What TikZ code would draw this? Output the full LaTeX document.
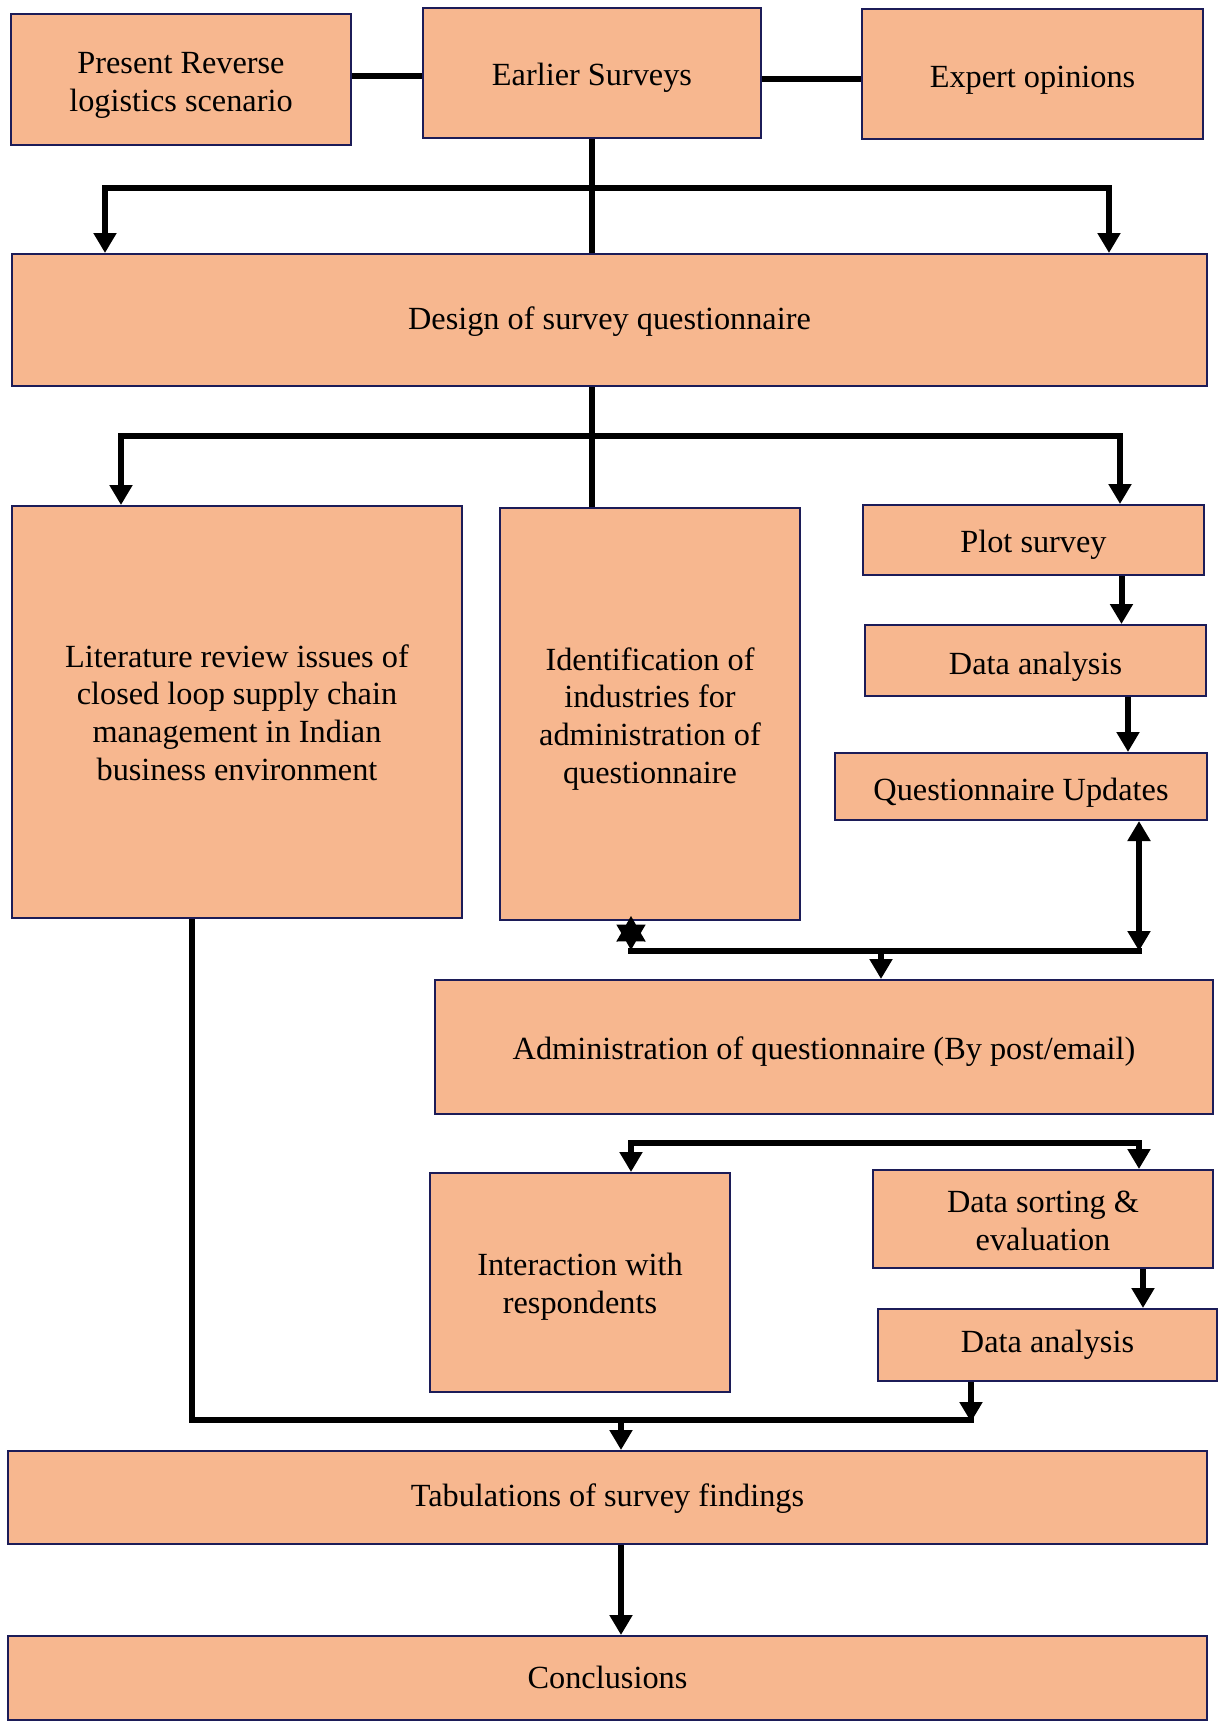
\documentclass[tikz,border=0pt]{standalone}
\usepackage{fontspec}
\setmainfont{Liberation Serif}
\usetikzlibrary{arrows.meta,shapes.geometric}
\definecolor{peach}{RGB}{247,183,143}
\definecolor{edge}{RGB}{28,28,88}
% centred block of lines, lowered a little inside its box
\newcommand\lbl[2][4pt]{\raisebox{-#1}[\height][\depth]{\begin{tabular}{@{}c@{}}#2\end{tabular}}}
\begin{document}
\begin{tikzpicture}[x=1pt,y=-1pt,
  box/.style={draw=edge,line width=2pt,fill=peach,inner sep=0pt,
              font=\fontsize{32.3}{37.7}\selectfont},
  link/.style={line width=6pt,line join=miter},
  arr/.style={line width=6pt,line join=miter,-{Triangle[width=22pt,length=20pt]}},
  dbl/.style={line width=6pt,{Triangle[width=22pt,length=20pt]}-{Triangle[width=22pt,length=20pt]}},
]
\useasboundingbox (0,0) rectangle (1218,1722);

% boxes
\node[box,minimum width=340pt,minimum height=131pt] (pr) at (181,79.5) {\lbl[5.5pt]{Present Reverse\\logistics scenario}};
\node[box,minimum width=338pt,minimum height=130pt] (es) at (592,73) {\lbl[4.5pt]{Earlier Surveys}};
\node[box,minimum width=341pt,minimum height=130pt] (eo) at (1032.5,74) {\lbl[5.5pt]{Expert opinions}};
\node[box,minimum width=1195pt,minimum height=132pt] (design) at (609.5,320) {\lbl[2pt]{Design of survey questionnaire}};
\node[box,minimum width=450pt,minimum height=412pt] (lit) at (237,712) {\lbl[4pt]{Literature review issues of\\closed loop supply chain\\management in Indian\\business environment}};
\node[box,minimum width=300pt,minimum height=412pt] (ident) at (650,714) {\lbl[5pt]{Identification of\\industries for\\administration of\\questionnaire}};
\node[box,minimum width=341pt,minimum height=70pt] (plot) at (1033.5,540) {\lbl[4.5pt]{Plot survey}};
\node[box,minimum width=341pt,minimum height=71pt] (da1) at (1035.5,660.5) {\lbl[6.5pt]{Data analysis}};
\node[box,minimum width=372pt,minimum height=67pt] (qu) at (1021,786.5) {\lbl[6.5pt]{Questionnaire Updates}};
\node[box,minimum width=778pt,minimum height=134pt] (admin) at (824,1047) {\lbl[4.5pt]{Administration of questionnaire (By post/email)}};
\node[box,minimum width=300pt,minimum height=219pt] (inter) at (580,1282.5) {\lbl[4.5pt]{Interaction with\\respondents}};
\node[box,minimum width=340pt,minimum height=98pt] (ds) at (1043,1219) {\lbl[5pt]{Data sorting \&\\evaluation}};
\node[box,minimum width=339pt,minimum height=72pt] (da2) at (1047.5,1345) {\lbl[0pt]{Data analysis}};
\node[box,minimum width=1199pt,minimum height=93pt] (tab) at (607.5,1497.5) {\lbl[1pt]{Tabulations of survey findings}};
\node[box,minimum width=1199pt,minimum height=84pt] (concl) at (607.5,1678) {\lbl[3pt]{Conclusions}};

% junction points
\coordinate (t1) at (591,188);
\coordinate (t2) at (591,436);
\coordinate (hb) at (1139,951);
\coordinate (sp) at (885,1143);
\coordinate (bj) at (971,1420);

% top row links
\draw[link] ([yshift=3.5pt]pr.east) -- ([yshift=3.5pt]pr.east -| es.west);
\draw[link] ([yshift=-5pt]eo.west -| es.east) -- ([yshift=-5pt]eo.west);

% earlier surveys to design
\draw[link] (es.south) -- (es.south |- design.north);
\draw[arr] (es.south |- t1) -| ([xshift=-504.5pt]design.north);
\draw[arr] (es.south |- t1) -| ([xshift=499.5pt]design.north);

% design to second row
\draw[link] (es.south |- design.south) -- (es.south |- ident.north);
\draw[arr] (es.south |- t2) -| ([xshift=-116pt]lit.north);
\draw[arr] (es.south |- t2) -| ([xshift=86.5pt]plot.north);

% pilot chain
\draw[arr] ([xshift=88pt]plot.south) -- ([xshift=88pt]plot.south |- da1.north);
\draw[arr] ([xshift=92.5pt]da1.south) -- ([xshift=92.5pt]da1.south |- qu.north);
\draw[dbl] (hb |- qu.south) -- (hb);

% junction star under identification box
\node[star,star points=6,star point ratio=1.75,fill=black,minimum size=34pt,inner sep=0pt] (jstar) at (631,933) {};
\draw[link] ([xshift=-3pt]jstar.center |- hb) -- ([xshift=3pt]hb);
\draw[arr] ([xshift=57pt]admin.north |- hb) -- ([xshift=57pt]admin.north);

% administration outputs
\draw[arr] ([xshift=96pt]ds.north |- sp) -| ([xshift=51pt]inter.north);
\draw[arr] ([xshift=51pt]inter.north |- sp) -| ([xshift=96pt]ds.north);
\draw[arr] ([xshift=100pt]ds.south) -- ([xshift=100pt]ds.south |- da2.north);

% collection to tabulation
\draw[link] ([xshift=-45pt]lit.south) |- ([xshift=3pt]bj);
\draw[arr] ([xshift=-76.5pt]da2.south) -- ([yshift=-2pt]bj);
\draw[arr] ([xshift=13.5pt]tab.north |- bj) -- ([xshift=13.5pt]tab.north);
\draw[arr] ([xshift=13.5pt]tab.south) -- ([xshift=13.5pt]concl.north);
\end{tikzpicture}
\end{document}
